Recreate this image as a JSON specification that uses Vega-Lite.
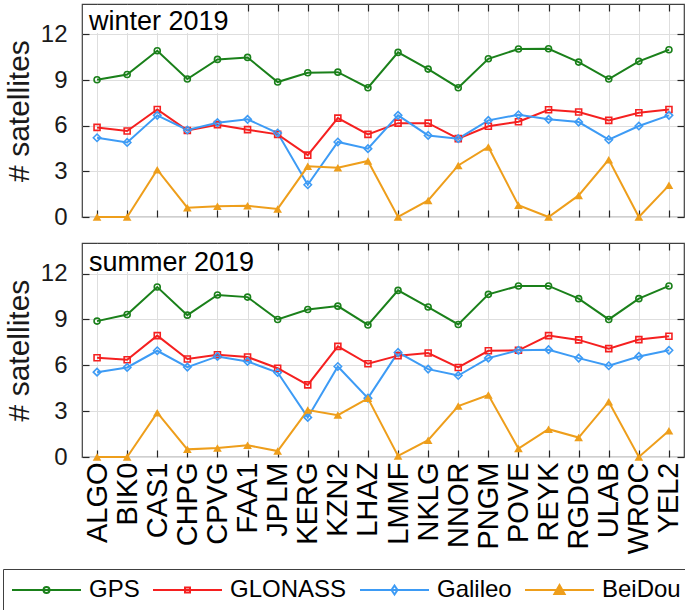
{
  "$schema": "https://vega.github.io/schema/vega-lite/v6.json",
  "padding": {"left": 2, "top": 2, "right": 3, "bottom": 0},
  "config": {
    "font": "Liberation Sans",
    "view": {"stroke": "#404040", "strokeWidth": 1.2},
    "axis": {"labelFont": "Liberation Sans", "titleFont": "Liberation Sans", "labelColor": "#1a1a1a", "titleColor": "#1a1a1a", "tickColor": "#262626", "tickWidth": 1.2, "gridColor": "#dedede", "gridWidth": 1, "domain": false, "titleFontWeight": "normal"}
  },
  "datasets": {
    "d": [
      {"season":"winter","station":"ALGO","system":"GPS","n":9.02},{"season":"winter","station":"BIK0","system":"GPS","n":9.37},{"season":"winter","station":"CAS1","system":"GPS","n":10.93},{"season":"winter","station":"CHPG","system":"GPS","n":9.07},{"season":"winter","station":"CPVG","system":"GPS","n":10.36},{"season":"winter","station":"FAA1","system":"GPS","n":10.49},{"season":"winter","station":"JPLM","system":"GPS","n":8.87},{"season":"winter","station":"KERG","system":"GPS","n":9.48},{"season":"winter","station":"KZN2","system":"GPS","n":9.52},{"season":"winter","station":"LHAZ","system":"GPS","n":8.5},{"season":"winter","station":"LMMF","system":"GPS","n":10.82},{"season":"winter","station":"NKLG","system":"GPS","n":9.72},{"season":"winter","station":"NNOR","system":"GPS","n":8.5},{"season":"winter","station":"PNGM","system":"GPS","n":10.4},{"season":"winter","station":"POVE","system":"GPS","n":11.04},{"season":"winter","station":"REYK","system":"GPS","n":11.06},{"season":"winter","station":"RGDG","system":"GPS","n":10.18},{"season":"winter","station":"ULAB","system":"GPS","n":9.07},{"season":"winter","station":"WROC","system":"GPS","n":10.23},{"season":"winter","station":"YEL2","system":"GPS","n":10.99},
      {"season":"winter","station":"ALGO","system":"GLONASS","n":5.89},{"season":"winter","station":"BIK0","system":"GLONASS","n":5.65},{"season":"winter","station":"CAS1","system":"GLONASS","n":7.07},{"season":"winter","station":"CHPG","system":"GLONASS","n":5.69},{"season":"winter","station":"CPVG","system":"GLONASS","n":6.07},{"season":"winter","station":"FAA1","system":"GLONASS","n":5.74},{"season":"winter","station":"JPLM","system":"GLONASS","n":5.43},{"season":"winter","station":"KERG","system":"GLONASS","n":4.07},{"season":"winter","station":"KZN2","system":"GLONASS","n":6.5},{"season":"winter","station":"LHAZ","system":"GLONASS","n":5.43},{"season":"winter","station":"LMMF","system":"GLONASS","n":6.17},{"season":"winter","station":"NKLG","system":"GLONASS","n":6.17},{"season":"winter","station":"NNOR","system":"GLONASS","n":5.15},{"season":"winter","station":"PNGM","system":"GLONASS","n":5.96},{"season":"winter","station":"POVE","system":"GLONASS","n":6.26},{"season":"winter","station":"REYK","system":"GLONASS","n":7.05},{"season":"winter","station":"RGDG","system":"GLONASS","n":6.9},{"season":"winter","station":"ULAB","system":"GLONASS","n":6.35},{"season":"winter","station":"WROC","system":"GLONASS","n":6.85},{"season":"winter","station":"YEL2","system":"GLONASS","n":7.07},
      {"season":"winter","station":"ALGO","system":"Galileo","n":5.21},{"season":"winter","station":"BIK0","system":"Galileo","n":4.9},{"season":"winter","station":"CAS1","system":"Galileo","n":6.68},{"season":"winter","station":"CHPG","system":"Galileo","n":5.72},{"season":"winter","station":"CPVG","system":"Galileo","n":6.2},{"season":"winter","station":"FAA1","system":"Galileo","n":6.42},{"season":"winter","station":"JPLM","system":"Galileo","n":5.52},{"season":"winter","station":"KERG","system":"Galileo","n":2.12},{"season":"winter","station":"KZN2","system":"Galileo","n":4.93},{"season":"winter","station":"LHAZ","system":"Galileo","n":4.49},{"season":"winter","station":"LMMF","system":"Galileo","n":6.68},{"season":"winter","station":"NKLG","system":"Galileo","n":5.36},{"season":"winter","station":"NNOR","system":"Galileo","n":5.15},{"season":"winter","station":"PNGM","system":"Galileo","n":6.35},{"season":"winter","station":"POVE","system":"Galileo","n":6.72},{"season":"winter","station":"REYK","system":"Galileo","n":6.42},{"season":"winter","station":"RGDG","system":"Galileo","n":6.24},{"season":"winter","station":"ULAB","system":"Galileo","n":5.08},{"season":"winter","station":"WROC","system":"Galileo","n":5.98},{"season":"winter","station":"YEL2","system":"Galileo","n":6.68},
      {"season":"winter","station":"ALGO","system":"BeiDou","n":0},{"season":"winter","station":"BIK0","system":"BeiDou","n":0},{"season":"winter","station":"CAS1","system":"BeiDou","n":3.11},{"season":"winter","station":"CHPG","system":"BeiDou","n":0.61},{"season":"winter","station":"CPVG","system":"BeiDou","n":0.7},{"season":"winter","station":"FAA1","system":"BeiDou","n":0.74},{"season":"winter","station":"JPLM","system":"BeiDou","n":0.53},{"season":"winter","station":"KERG","system":"BeiDou","n":3.33},{"season":"winter","station":"KZN2","system":"BeiDou","n":3.24},{"season":"winter","station":"LHAZ","system":"BeiDou","n":3.68},{"season":"winter","station":"LMMF","system":"BeiDou","n":0},{"season":"winter","station":"NKLG","system":"BeiDou","n":1.09},{"season":"winter","station":"NNOR","system":"BeiDou","n":3.39},{"season":"winter","station":"PNGM","system":"BeiDou","n":4.6},{"season":"winter","station":"POVE","system":"BeiDou","n":0.77},{"season":"winter","station":"REYK","system":"BeiDou","n":0},{"season":"winter","station":"RGDG","system":"BeiDou","n":1.42},{"season":"winter","station":"ULAB","system":"BeiDou","n":3.77},{"season":"winter","station":"WROC","system":"BeiDou","n":0},{"season":"winter","station":"YEL2","system":"BeiDou","n":2.08},
      {"season":"summer","station":"ALGO","system":"GPS","n":8.89},{"season":"summer","station":"BIK0","system":"GPS","n":9.32},{"season":"summer","station":"CAS1","system":"GPS","n":11.12},{"season":"summer","station":"CHPG","system":"GPS","n":9.28},{"season":"summer","station":"CPVG","system":"GPS","n":10.6},{"season":"summer","station":"FAA1","system":"GPS","n":10.46},{"season":"summer","station":"JPLM","system":"GPS","n":9.0},{"season":"summer","station":"KERG","system":"GPS","n":9.65},{"season":"summer","station":"KZN2","system":"GPS","n":9.87},{"season":"summer","station":"LHAZ","system":"GPS","n":8.64},{"season":"summer","station":"LMMF","system":"GPS","n":10.9},{"season":"summer","station":"NKLG","system":"GPS","n":9.81},{"season":"summer","station":"NNOR","system":"GPS","n":8.67},{"season":"summer","station":"PNGM","system":"GPS","n":10.64},{"season":"summer","station":"POVE","system":"GPS","n":11.19},{"season":"summer","station":"REYK","system":"GPS","n":11.19},{"season":"summer","station":"RGDG","system":"GPS","n":10.36},{"season":"summer","station":"ULAB","system":"GPS","n":9.0},{"season":"summer","station":"WROC","system":"GPS","n":10.36},{"season":"summer","station":"YEL2","system":"GPS","n":11.19},
      {"season":"summer","station":"ALGO","system":"GLONASS","n":6.49},{"season":"summer","station":"BIK0","system":"GLONASS","n":6.36},{"season":"summer","station":"CAS1","system":"GLONASS","n":7.94},{"season":"summer","station":"CHPG","system":"GLONASS","n":6.41},{"season":"summer","station":"CPVG","system":"GLONASS","n":6.69},{"season":"summer","station":"FAA1","system":"GLONASS","n":6.54},{"season":"summer","station":"JPLM","system":"GLONASS","n":5.81},{"season":"summer","station":"KERG","system":"GLONASS","n":4.72},{"season":"summer","station":"KZN2","system":"GLONASS","n":7.24},{"season":"summer","station":"LHAZ","system":"GLONASS","n":6.1},{"season":"summer","station":"LMMF","system":"GLONASS","n":6.63},{"season":"summer","station":"NKLG","system":"GLONASS","n":6.8},{"season":"summer","station":"NNOR","system":"GLONASS","n":5.86},{"season":"summer","station":"PNGM","system":"GLONASS","n":6.95},{"season":"summer","station":"POVE","system":"GLONASS","n":6.98},{"season":"summer","station":"REYK","system":"GLONASS","n":7.94},{"season":"summer","station":"RGDG","system":"GLONASS","n":7.66},{"season":"summer","station":"ULAB","system":"GLONASS","n":7.09},{"season":"summer","station":"WROC","system":"GLONASS","n":7.68},{"season":"summer","station":"YEL2","system":"GLONASS","n":7.9},
      {"season":"summer","station":"ALGO","system":"Galileo","n":5.55},{"season":"summer","station":"BIK0","system":"Galileo","n":5.86},{"season":"summer","station":"CAS1","system":"Galileo","n":6.95},{"season":"summer","station":"CHPG","system":"Galileo","n":5.88},{"season":"summer","station":"CPVG","system":"Galileo","n":6.58},{"season":"summer","station":"FAA1","system":"Galileo","n":6.25},{"season":"summer","station":"JPLM","system":"Galileo","n":5.53},{"season":"summer","station":"KERG","system":"Galileo","n":2.59},{"season":"summer","station":"KZN2","system":"Galileo","n":5.92},{"season":"summer","station":"LHAZ","system":"Galileo","n":3.85},{"season":"summer","station":"LMMF","system":"Galileo","n":6.84},{"season":"summer","station":"NKLG","system":"Galileo","n":5.75},{"season":"summer","station":"NNOR","system":"Galileo","n":5.33},{"season":"summer","station":"PNGM","system":"Galileo","n":6.47},{"season":"summer","station":"POVE","system":"Galileo","n":6.98},{"season":"summer","station":"REYK","system":"Galileo","n":7.02},{"season":"summer","station":"RGDG","system":"Galileo","n":6.47},{"season":"summer","station":"ULAB","system":"Galileo","n":5.97},{"season":"summer","station":"WROC","system":"Galileo","n":6.58},{"season":"summer","station":"YEL2","system":"Galileo","n":6.98},
      {"season":"summer","station":"ALGO","system":"BeiDou","n":0},{"season":"summer","station":"BIK0","system":"BeiDou","n":0},{"season":"summer","station":"CAS1","system":"BeiDou","n":2.9},{"season":"summer","station":"CHPG","system":"BeiDou","n":0.5},{"season":"summer","station":"CPVG","system":"BeiDou","n":0.59},{"season":"summer","station":"FAA1","system":"BeiDou","n":0.77},{"season":"summer","station":"JPLM","system":"BeiDou","n":0.39},{"season":"summer","station":"KERG","system":"BeiDou","n":3.07},{"season":"summer","station":"KZN2","system":"BeiDou","n":2.74},{"season":"summer","station":"LHAZ","system":"BeiDou","n":3.84},{"season":"summer","station":"LMMF","system":"BeiDou","n":0.07},{"season":"summer","station":"NKLG","system":"BeiDou","n":1.1},{"season":"summer","station":"NNOR","system":"BeiDou","n":3.33},{"season":"summer","station":"PNGM","system":"BeiDou","n":4.06},{"season":"summer","station":"POVE","system":"BeiDou","n":0.55},{"season":"summer","station":"REYK","system":"BeiDou","n":1.82},{"season":"summer","station":"RGDG","system":"BeiDou","n":1.27},{"season":"summer","station":"ULAB","system":"BeiDou","n":3.62},{"season":"summer","station":"WROC","system":"BeiDou","n":0},{"season":"summer","station":"YEL2","system":"BeiDou","n":1.71}
    ]
  },
  "spacing": 11,
  "resolve": {"scale": {"color": "shared", "stroke": "shared"}},
  "vconcat": [
    {
      "width": 602, "height": 213,
      "data": {"name": "d"},
      "transform": [{"filter": "datum.season === 'winter'"}],
      "resolve": {"axis": {"x": "independent", "y": "independent"}},
      "layer": [
        {
          "data": {"values": [{}]},
          "mark": {"type": "rect", "fill": "white", "xOffset": -13, "x2Offset": 18, "yOffset": 1, "y2Offset": -1.5},
          "encoding": {
            "x": {"datum": "ALGO", "type": "nominal", "axis": null, "scale": {"type": "point", "padding": 0.5, "domain": ["ALGO","BIK0","CAS1","CHPG","CPVG","FAA1","JPLM","KERG","KZN2","LHAZ","LMMF","NKLG","NNOR","PNGM","POVE","REYK","RGDG","ULAB","WROC","YEL2"]}},
            "x2": {"datum": "CPVG"},
            "y": {"datum": 14, "type": "quantitative", "axis": null, "scale": {"domain": [0, 14], "nice": false}},
            "y2": {"datum": 12}
          }
        },
        {
          "mark": {"type": "line", "strokeWidth": 2},
          "encoding": {
            "x": {"field": "station", "type": "nominal", "scale": {"type": "point", "padding": 0.5, "domain": ["ALGO","BIK0","CAS1","CHPG","CPVG","FAA1","JPLM","KERG","KZN2","LHAZ","LMMF","NKLG","NNOR","PNGM","POVE","REYK","RGDG","ULAB","WROC","YEL2"]},
                  "axis": {"orient": "bottom", "labels": false, "tickSize": -7, "grid": true, "title": null}},
            "y": {"field": "n", "type": "quantitative", "scale": {"domain": [0, 14], "nice": false},
                  "axis": {"orient": "left", "values": [0, 3, 6, 9, 12], "labelFontSize": 24, "tickSize": -7, "labelPadding": 22, "grid": true, "title": "# satellites", "titleFontSize": 30, "titlePadding": 6}},
            "color": {"field": "system", "type": "nominal",
                      "scale": {"domain": ["GPS", "GLONASS", "Galileo", "BeiDou"], "range": ["#1A801A", "#F52020", "#3D9BF5", "#EE9E1B"]},
                      "legend": {
                        "orient": "none", "legendX": -79, "legendY": 565, "direction": "horizontal", "title": null,
                        "labelFont": "Liberation Sans", "labelFontSize": 24, "labelColor": "#000000",
                        "symbolSize": 576, "symbolStrokeWidth": 2, "symbolType": "M-1,0H4.75",
                        "labelOffset": 52, "columnPadding": 9, "padding": 8,
                        "strokeColor": "#404040", "fillColor": "#ffffff",
                        "encode": {"symbols": {"update": {
                          "shape": {"signal": "datum.value === 'GPS' ? 'M-1,0H4.75M1.625,0A0.25,0.25,0,1,1,2.125,0A0.25,0.25,0,1,1,1.625,0' : datum.value === 'GLONASS' ? 'M-1,0H4.75M1.665,-0.21H2.085V0.21H1.665Z' : datum.value === 'Galileo' ? 'M-1,0H4.75M1.875,-0.375L2.125,0L1.875,0.375L1.625,0Z' : 'M-1,0H4.75M1.875,-0.42L2.3,0.33H1.45Z'"},
                          "fill": {"signal": "datum.value === 'BeiDou' ? '#EE9E1B' : 'transparent'"},
                          "strokeWidth": {"value": 2}
                        }}}
                      }}
          }
        },
        {
          "transform": [{"filter": "datum.system !== 'BeiDou'"}],
          "mark": {"type": "point", "filled": false, "strokeWidth": 1.6, "opacity": 1},
          "encoding": {
            "x": {"field": "station", "type": "nominal", "axis": null},
            "y": {"field": "n", "type": "quantitative", "axis": null},
            "stroke": {"field": "system", "type": "nominal", "scale": {"domain": ["GPS", "GLONASS", "Galileo"], "range": ["#1A801A", "#F52020", "#3D9BF5"]}, "legend": null},
            "shape": {"field": "system", "type": "nominal", "scale": {"domain": ["GPS", "GLONASS", "Galileo"], "range": ["circle", "square", "diamond"]}, "legend": null},
            "size": {"condition": {"test": "datum.system === 'Galileo'", "value": 55}, "value": 36}
          }
        },
        {
          "transform": [{"filter": "datum.system === 'BeiDou'"}],
          "mark": {"type": "point", "filled": true, "shape": "triangle-up", "size": 75, "opacity": 1, "color": "#EE9E1B"},
          "encoding": {
            "x": {"field": "station", "type": "nominal", "axis": null},
            "y": {"field": "n", "type": "quantitative", "axis": null}
          }
        },
        {
          "mark": {"type": "point", "opacity": 0},
          "encoding": {
            "x": {"field": "station", "type": "nominal", "axis": {"orient": "top", "labels": false, "tickSize": -7, "grid": false, "title": null}},
            "y": {"field": "n", "type": "quantitative", "axis": {"orient": "right", "values": [0, 3, 6, 9, 12], "labels": false, "tickSize": -7, "grid": false, "title": null}}
          }
        },
        {
          "data": {"values": [{}]},
          "mark": {"type": "text", "text": "winter 2019", "align": "left", "baseline": "alphabetic", "dx": -8, "fontSize": 27, "font": "Liberation Sans", "color": "#000000"},
          "encoding": {
            "x": {"datum": "ALGO", "type": "nominal", "axis": null},
            "y": {"datum": 12.27, "type": "quantitative", "axis": null}
          }
        }
      ]
    },
    {
      "width": 602, "height": 214,
      "data": {"name": "d"},
      "transform": [{"filter": "datum.season === 'summer'"}],
      "resolve": {"axis": {"x": "independent", "y": "independent"}},
      "layer": [
        {
          "data": {"values": [{}]},
          "mark": {"type": "rect", "fill": "white", "xOffset": -13, "x2Offset": 18, "yOffset": 1, "y2Offset": -1.5},
          "encoding": {
            "x": {"datum": "ALGO", "type": "nominal", "axis": null, "scale": {"type": "point", "padding": 0.5, "domain": ["ALGO","BIK0","CAS1","CHPG","CPVG","FAA1","JPLM","KERG","KZN2","LHAZ","LMMF","NKLG","NNOR","PNGM","POVE","REYK","RGDG","ULAB","WROC","YEL2"]}},
            "x2": {"datum": "FAA1"},
            "y": {"datum": 14, "type": "quantitative", "axis": null, "scale": {"domain": [0, 14], "nice": false}},
            "y2": {"datum": 12}
          }
        },
        {
          "mark": {"type": "line", "strokeWidth": 2},
          "encoding": {
            "x": {"field": "station", "type": "nominal", "scale": {"type": "point", "padding": 0.5, "domain": ["ALGO","BIK0","CAS1","CHPG","CPVG","FAA1","JPLM","KERG","KZN2","LHAZ","LMMF","NKLG","NNOR","PNGM","POVE","REYK","RGDG","ULAB","WROC","YEL2"]},
                  "axis": {"orient": "bottom", "labelAngle": -90, "labelAlign": "right", "labelBaseline": "middle", "labelFontSize": 29, "labelColor": "#000000", "labelPadding": 12, "tickSize": -7, "grid": true, "title": null}},
            "y": {"field": "n", "type": "quantitative", "scale": {"domain": [0, 14], "nice": false},
                  "axis": {"orient": "left", "values": [0, 3, 6, 9, 12], "labelFontSize": 24, "tickSize": -7, "labelPadding": 22, "grid": true, "title": "# satellites", "titleFontSize": 30, "titlePadding": 6}},
            "color": {"field": "system", "type": "nominal"}
          }
        },
        {
          "transform": [{"filter": "datum.system !== 'BeiDou'"}],
          "mark": {"type": "point", "filled": false, "strokeWidth": 1.6, "opacity": 1},
          "encoding": {
            "x": {"field": "station", "type": "nominal", "axis": null},
            "y": {"field": "n", "type": "quantitative", "axis": null},
            "stroke": {"field": "system", "type": "nominal", "scale": {"domain": ["GPS", "GLONASS", "Galileo"], "range": ["#1A801A", "#F52020", "#3D9BF5"]}, "legend": null},
            "shape": {"field": "system", "type": "nominal", "scale": {"domain": ["GPS", "GLONASS", "Galileo"], "range": ["circle", "square", "diamond"]}, "legend": null},
            "size": {"condition": {"test": "datum.system === 'Galileo'", "value": 55}, "value": 36}
          }
        },
        {
          "transform": [{"filter": "datum.system === 'BeiDou'"}],
          "mark": {"type": "point", "filled": true, "shape": "triangle-up", "size": 75, "opacity": 1, "color": "#EE9E1B"},
          "encoding": {
            "x": {"field": "station", "type": "nominal", "axis": null},
            "y": {"field": "n", "type": "quantitative", "axis": null}
          }
        },
        {
          "mark": {"type": "point", "opacity": 0},
          "encoding": {
            "x": {"field": "station", "type": "nominal", "axis": {"orient": "top", "labels": false, "tickSize": -7, "grid": false, "title": null}},
            "y": {"field": "n", "type": "quantitative", "axis": {"orient": "right", "values": [0, 3, 6, 9, 12], "labels": false, "tickSize": -7, "grid": false, "title": null}}
          }
        },
        {
          "data": {"values": [{}]},
          "mark": {"type": "text", "text": "summer 2019", "align": "left", "baseline": "alphabetic", "dx": -8, "fontSize": 27, "font": "Liberation Sans", "color": "#000000"},
          "encoding": {
            "x": {"datum": "ALGO", "type": "nominal", "axis": null},
            "y": {"datum": 12.14, "type": "quantitative", "axis": null}
          }
        }
      ]
    }
  ]
}
